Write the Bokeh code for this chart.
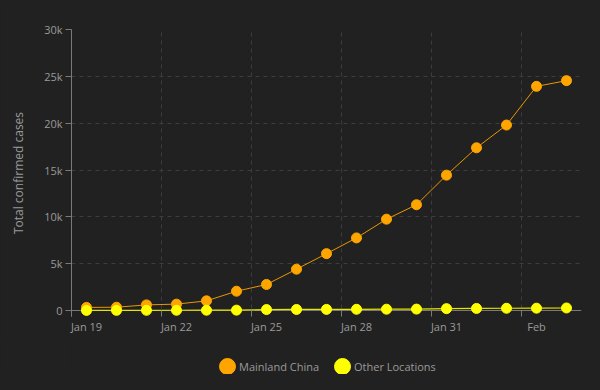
import pandas as pd
from bokeh.plotting import figure
from bokeh.layouts import column
from bokeh.models import (Range1d, FixedTicker, Span, Legend, LegendItem,
                          ColumnDataSource)
from bokeh.embed import file_html
from bokeh.resources import INLINE

dates = ["2020-01-19", "2020-01-20", "2020-01-21", "2020-01-22", "2020-01-23",
         "2020-01-24", "2020-01-25", "2020-01-26", "2020-01-27", "2020-01-28",
         "2020-01-29", "2020-01-30", "2020-01-31", "2020-02-01", "2020-02-02",
         "2020-02-03", "2020-02-04"]
mainland_china = [330, 350, 600, 680, 1030, 2060, 2780, 4410, 6070, 7750,
                  9750, 11290, 14450, 17370, 19800, 23930, 24540]
other_locations = [10, 15, 20, 25, 30, 40, 100, 110, 120, 130,
                   140, 150, 200, 220, 240, 250, 270]
tick_dates = ["2020-01-19", "2020-01-22", "2020-01-25", "2020-01-28",
              "2020-01-31", "2020-02-03"]
tick_labels = ["Jan 19", "Jan 22", "Jan 25", "Jan 28", "Jan 31", "Feb"]
y_ticks = [0, 5000, 10000, 15000, 20000, 25000, 30000]
y_labels = ["0", "5k", "10k", "15k", "20k", "25k", "30k"]
series_names = ["Mainland China", "Other Locations"]

BG = "#212121"
TXT = "#9a9a9a"
AX = "#7a7a7a"
GRID = "#3d3d3d"
FONT = "Open Sans"
ORANGE = "#FFA500"
YELLOW = "#FFFF00"

day = pd.Timedelta(hours=24)
half = pd.Timedelta(hours=12)
xs = [pd.Timestamp(d) + half for d in dates]
src = ColumnDataSource(dict(x=xs, mc=mainland_china, ol=other_locations))


def ms(ts):
    return ts.value / 1e6


x0 = pd.Timestamp(dates[0])
x1 = pd.Timestamp(dates[-1]) + day
p = figure(width=584, height=340, output_backend="svg", toolbar_location=None,
           x_axis_type="datetime",
           x_range=Range1d(x0, x1), y_range=Range1d(-640, 30000),
           min_border_left=71, min_border_right=3, min_border_top=29,
           min_border_bottom=24,
           background_fill_color=BG, border_fill_color=BG, outline_line_color=None)

grid_ms = [ms(pd.Timestamp(d)) for d in tick_dates]
label_ms = [ms(pd.Timestamp(d) + half) for d in tick_dates]

# x axis
p.xaxis.ticker = FixedTicker(ticks=label_ms, minor_ticks=grid_ms)
p.xaxis.major_label_overrides = {v: t for v, t in zip(label_ms, tick_labels)}
p.xaxis.major_tick_line_color = None
p.xaxis.major_tick_out = 0
p.xaxis.major_tick_in = 0
p.xaxis.minor_tick_line_color = AX
p.xaxis.minor_tick_in = 6
p.xaxis.minor_tick_out = 0
p.xaxis.axis_line_color = None
p.xaxis.major_label_text_color = TXT
p.xaxis.major_label_text_font = FONT
p.xaxis.major_label_text_font_size = "11px"
p.xaxis.major_label_standoff = 2

# y axis
p.yaxis.ticker = FixedTicker(ticks=y_ticks)
p.yaxis.major_label_overrides = {v: t for v, t in zip(y_ticks, y_labels)}
p.yaxis.minor_tick_line_color = None
p.yaxis.major_tick_line_color = AX
p.yaxis.major_tick_out = 6
p.yaxis.major_tick_in = 0
p.yaxis.axis_line_color = AX
p.yaxis.major_label_text_color = TXT
p.yaxis.major_label_text_font = FONT
p.yaxis.major_label_text_font_size = "11px"
p.yaxis.major_label_standoff = 3
p.yaxis.axis_label = "Total confirmed cases"
p.yaxis.axis_label_text_color = TXT
p.yaxis.axis_label_text_font = FONT
p.yaxis.axis_label_text_font_size = "12px"
p.yaxis.axis_label_text_font_style = "normal"
p.yaxis.axis_label_standoff = 14

# grids
p.xgrid.ticker = FixedTicker(ticks=grid_ms)
p.xgrid.grid_line_color = GRID
p.xgrid.grid_line_dash = "4 4"
p.ygrid.grid_line_color = GRID
p.ygrid.grid_line_dash = "4 4"

p.add_layout(Span(location=0, dimension="width", line_color=AX, line_width=1,
                  level="underlay"))

# series
p.line("x", "mc", source=src, line_color="#E89800", line_width=1)
p.scatter("x", "mc", source=src, size=10, fill_color=ORANGE, line_color=ORANGE)
p.line("x", "ol", source=src, line_color="#E6E600", line_width=1.2)
p.scatter("x", "ol", source=src, size=10, fill_color=YELLOW, line_color=YELLOW)

# legend strip (renderers kept out of view; only their legend glyphs show)
lg = figure(width=584, height=34, output_backend="svg", toolbar_location=None,
            x_range=Range1d(x0, x1), y_range=Range1d(-20, -10),
            x_axis_type="datetime",
            x_axis_location=None, y_axis_location=None,
            min_border=0, min_border_left=0, min_border_right=0,
            min_border_top=0, min_border_bottom=0,
            background_fill_color=BG, border_fill_color=BG, outline_line_color=None)
lg.xgrid.visible = False
lg.ygrid.visible = False
l1 = lg.scatter("x", "mc", source=src, size=10, fill_color=ORANGE, line_color=ORANGE)
l2 = lg.scatter("x", "ol", source=src, size=10, fill_color=YELLOW, line_color=YELLOW)
lt = lg.scatter("x", "mc", source=src, size=10, fill_alpha=0, line_alpha=0)


def make_legend(label, rend, x, gw, standoff):
    leg = Legend(items=[LegendItem(label=label, renderers=[rend])],
                 orientation="horizontal", location=(x, -12),
                 glyph_width=gw, glyph_height=40, label_standoff=standoff,
                 label_width=0, padding=0, margin=0,
                 background_fill_alpha=0, border_line_color=None,
                 label_text_color=TXT, label_text_font=FONT,
                 label_text_font_size="11px", label_text_baseline="middle")
    lg.add_layout(leg, "center")


# legend markers (centred at 227 and 342 px) and their labels
make_legend(" ", l1, 136, 40, 0)
make_legend(" ", l2, 251, 40, 0)
make_legend(series_names[0], lt, 168, 0, 0)
make_legend(series_names[1], lt, 283, 0, 0)

layout = column(p, lg, spacing=0, styles={"background-color": BG})
html = file_html(layout, INLINE)
html = html.replace("</head>", "<style>body{background:#212121;}</style></head>")
open("out.html", "w").write(html)
